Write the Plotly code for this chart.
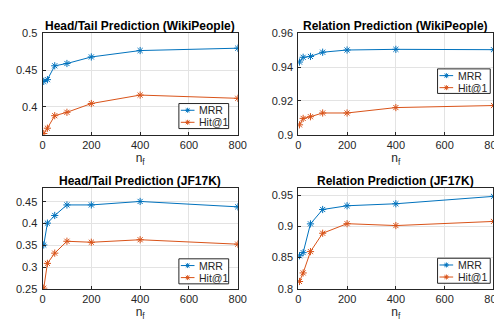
import plotly.graph_objects as go

# ---- data ----
n_f = [5, 20, 50, 100, 200, 400, 800]

wp_ht_mrr = [0.4346, 0.4370, 0.4558, 0.4589, 0.4678, 0.4765, 0.4797]
wp_ht_hit1 = [0.3638, 0.3710, 0.3880, 0.3926, 0.4045, 0.4160, 0.4116]

wp_rel_mrr = [0.9430, 0.9458, 0.9463, 0.9488, 0.9501, 0.9505, 0.9503]
wp_rel_hit1 = [0.9059, 0.9097, 0.9107, 0.9129, 0.9129, 0.9161, 0.9173]

jf_ht_mrr = [0.3507, 0.4009, 0.4185, 0.4427, 0.4427, 0.4507, 0.4383]
jf_ht_hit1 = [0.2515, 0.3085, 0.3320, 0.3593, 0.3570, 0.3628, 0.3526]

jf_rel_mrr = [0.8530, 0.8580, 0.9040, 0.9270, 0.9330, 0.9362, 0.9480]
jf_rel_hit1 = [0.8118, 0.8255, 0.8596, 0.8890, 0.9043, 0.9013, 0.9079]

titles = ["Head/Tail Prediction (WikiPeople)", "Relation Prediction (WikiPeople)",
          "Head/Tail Prediction (JF17K)", "Relation Prediction (JF17K)"]
series_names = ["MRR", "Hit@1"]
x_ticks = [0, 200, 400, 600, 800]
y_ticks = [[0.4, 0.45, 0.5], [0.9, 0.92, 0.94, 0.96],
           [0.25, 0.3, 0.35, 0.4, 0.45], [0.8, 0.85, 0.9, 0.95]]
y_ranges = [[0.362, 0.5], [0.9, 0.96], [0.25, 0.481], [0.8, 0.961]]

panels = [(wp_ht_mrr, wp_ht_hit1), (wp_rel_mrr, wp_rel_hit1),
          (jf_ht_mrr, jf_ht_hit1), (jf_rel_mrr, jf_rel_hit1)]

# ---- layout geometry (pixels) ----
W, H = 502, 322
xdoms = [[32.3 / W, 232.3 / W], [294.3 / W, 494.3 / W]]
ydoms = [[1 - 125.5 / H, 1 - 20 / H], [1 - 285.5 / H, 1 - 181 / H]]
colors = ["#0072BD", "#D95319"]
FONT = "Liberation Sans, Arial, Helvetica, sans-serif"
AX = "#262626"

# legend boxes: left, top, right, bottom in pixels
legend_boxes = [(172, 93, 223, 119), (437, 57, 491, 82.5),
                (172, 254.3, 223, 280.3), (437, 253.7, 491, 279.7)]


def px(x):
    return x / W


def py(y):
    return 1 - y / H


fig = go.Figure()
layout = dict(width=W, height=H, margin=dict(l=0, r=0, t=0, b=0),
              paper_bgcolor="white", plot_bgcolor="white", showlegend=False,
              font=dict(family=FONT, size=11, color=AX), annotations=[], shapes=[])

for i, (mrr, hit) in enumerate(panels):
    r, c = divmod(i, 2)
    sfx = "" if i == 0 else str(i + 1)
    for name, vals, col in zip(series_names, (mrr, hit), colors):
        fig.add_trace(go.Scatter(
            x=n_f, y=vals, name=name, mode="lines+markers",
            line=dict(color=col, width=1),
            marker=dict(symbol="asterisk-open", size=6, color=col,
                        line=dict(color=col, width=1)),
            xaxis="x" + sfx, yaxis="y" + sfx,
        ))
    common = dict(showline=True, mirror=True, linecolor=AX, linewidth=1,
                  ticks="inside", ticklen=3, tickcolor=AX, showgrid=True,
                  gridcolor="#e3e3e3", gridwidth=1, zeroline=False,
                  tickfont=dict(family=FONT, size=11, color=AX))
    layout["xaxis" + sfx] = dict(domain=xdoms[c], range=[0, 800], tickvals=x_ticks,
                                 anchor="y" + sfx,
                                 title=dict(text="n<sub>f</sub>", standoff=3,
                                            font=dict(family=FONT, size=12, color=AX)),
                                 **common)
    layout["yaxis" + sfx] = dict(domain=ydoms[r], range=y_ranges[i], tickvals=y_ticks[i],
                                 anchor="x" + sfx, ticklabelstandoff=2, **common)
    layout["annotations"].append(dict(
        text="<b>" + titles[i] + "</b>", xref="paper", yref="paper",
        x=(xdoms[c][0] + xdoms[c][1]) / 2, y=ydoms[r][1] + 8 / H,
        xanchor="center", yanchor="middle", showarrow=False,
        font=dict(family=FONT, size=12, color="black")))

    # legend (drawn as box, line samples, marker glyphs and labels)
    L, T, R, B = legend_boxes[i]
    layout["shapes"].append(dict(type="rect", xref="paper", yref="paper",
                                 x0=px(L), x1=px(R), y0=py(B), y1=py(T),
                                 fillcolor="white", line=dict(color=AX, width=1),
                                 layer="above"))
    rows = [T + 7, T + 19.5]
    for name, col, yy in zip(series_names, colors, rows):
        x0, x1 = L + 2, L + 16
        xm = (x0 + x1) / 2
        layout["shapes"].append(dict(type="line", xref="paper", yref="paper",
                                     x0=px(x0), x1=px(x1), y0=py(yy), y1=py(yy),
                                     line=dict(color=col, width=1), layer="above"))
        a, d = 2.6, 1.9
        path = (f"M{px(xm - a)},{py(yy)} L{px(xm + a)},{py(yy)} "
                f"M{px(xm)},{py(yy - a)} L{px(xm)},{py(yy + a)} "
                f"M{px(xm - d)},{py(yy - d)} L{px(xm + d)},{py(yy + d)} "
                f"M{px(xm - d)},{py(yy + d)} L{px(xm + d)},{py(yy - d)}")
        layout["shapes"].append(dict(type="path", xref="paper", yref="paper",
                                     path=path, line=dict(color=col, width=1),
                                     layer="above"))
        layout["annotations"].append(dict(
            text=name, xref="paper", yref="paper", x=px(L + 19), y=py(yy),
            xanchor="left", yanchor="middle", showarrow=False,
            font=dict(family=FONT, size=10.5, color=AX)))

fig.update_layout(**layout)
fig.write_html("out.html")
